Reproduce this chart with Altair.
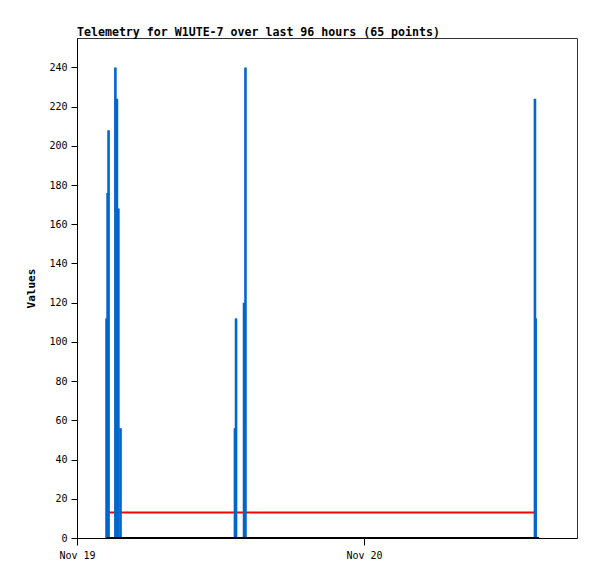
import altair as alt
import pandas as pd
from datetime import datetime, timedelta

# Telemetry samples (hours after Nov 19 00:00) and values
sample_hours = [2.47, 2.56, 2.64, 3.21, 3.34, 3.46, 3.64,
                13.21, 13.30, 13.97, 14.09,
                38.30, 38.36]
sample_values = [112, 176, 208, 240, 224, 168, 56,
                 56, 112, 120, 240,
                 224, 112]

# Red reference series
red_hours = [2.47, 38.30]
red_values = [13, 13]

# Black zero series
zero_hours = [2.47, 38.65]
zero_values = [0, 0]

base = datetime(2024, 11, 19, 0, 0)


def ts(h):
    return (base + timedelta(hours=h)).strftime("%Y-%m-%dT%H:%M:%S")


samples = pd.DataFrame({"time": [ts(h) for h in sample_hours], "value": sample_values})
red = pd.DataFrame({"time": [ts(h) for h in red_hours], "value": red_values})
zero = pd.DataFrame({"time": [ts(h) for h in zero_hours], "value": zero_values})

FONT = "DejaVu Sans Mono"

x_scale = alt.Scale(domain=[alt.DateTime(year=2024, month=11, date=19, hours=0),
                            alt.DateTime(year=2024, month=11, date=20, hours=17, minutes=49)])
y_scale = alt.Scale(domain=[0, 255], nice=False)

x_axis = alt.Axis(title=None, format="%b %d", tickCount={"interval": "day", "step": 1},
                  labelFont=FONT, labelFontSize=10, labelColor="black", tickColor="black",
                  domainColor="black", tickSize=7, labelPadding=5, grid=False, labelFlush=False)
y_axis = alt.Axis(title="Values", values=list(range(0, 241, 20)), labelFont=FONT, labelFontSize=10,
                  labelColor="black", tickColor="black", domainColor="black", tickSize=6,
                  labelPadding=4, grid=False, titleFont=FONT, titleFontSize=11,
                  titleFontWeight="bold", titleColor="black", titlePadding=12)

red_line = alt.Chart(red).mark_line(color="#ff0000", strokeWidth=2).encode(
    x=alt.X("time:T", scale=x_scale, axis=x_axis),
    y=alt.Y("value:Q", scale=y_scale, axis=y_axis),
)

bars = alt.Chart(samples).mark_rule(color="#0066cc", strokeWidth=2.6).encode(
    x=alt.X("time:T", scale=x_scale),
    y=alt.Y("value:Q", scale=y_scale),
    y2=alt.datum(0),
)

zero_line = alt.Chart(zero).mark_line(color="black", strokeWidth=2).encode(
    x=alt.X("time:T", scale=x_scale),
    y=alt.Y("value:Q", scale=y_scale),
)

chart = alt.layer(red_line, bars, zero_line).properties(
    width=500,
    height=500,
    title=alt.TitleParams("Telemetry for W1UTE-7 over last 96 hours (65 points)",
                          anchor="start", frame="group", font=FONT, fontSize=11.6,
                          fontWeight="bold", color="black", offset=-1),
    autosize=alt.AutoSizeParams(type="none"),
    padding={"left": 69, "top": 30, "right": 4, "bottom": 30},
).configure(background="white").configure_view(stroke="#333333", strokeWidth=1)

chart.save("out.html", embed_options={"renderer": "svg", "actions": False})
